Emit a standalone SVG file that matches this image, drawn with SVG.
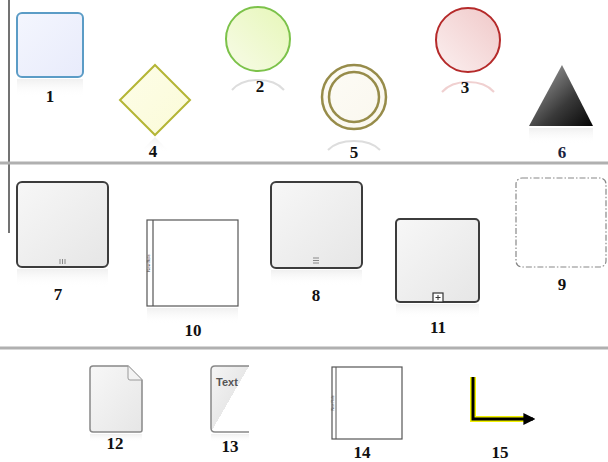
<svg xmlns="http://www.w3.org/2000/svg" width="608" height="462" viewBox="0 0 608 462">
<defs>
<style>
.lbl{font-family:"Liberation Serif","Times New Roman",serif;font-weight:bold;font-size:17px;fill:#111;text-anchor:middle}
.sep{stroke:#b0b0b0;stroke-width:3}
.task{fill:url(#gGray);stroke:#3c3c3c;stroke-width:2}
.refl{opacity:0.35}
</style>
<linearGradient id="gBlue" x1="0" y1="0" x2="1" y2="1"><stop offset="0" stop-color="#f4f6fe"/><stop offset="1" stop-color="#e8ebfb"/></linearGradient>
<linearGradient id="gYellow" x1="0" y1="0" x2="1" y2="1"><stop offset="0" stop-color="#fdfde8"/><stop offset="1" stop-color="#fbfbd8"/></linearGradient>
<linearGradient id="gGreen" x1="0" y1="1" x2="1" y2="0"><stop offset="0" stop-color="#f8fbe8"/><stop offset="1" stop-color="#e6f7b8"/></linearGradient>
<linearGradient id="gRed" x1="0" y1="1" x2="1" y2="0"><stop offset="0" stop-color="#fbf0f0"/><stop offset="1" stop-color="#f0c8c8"/></linearGradient>
<linearGradient id="gCream" x1="0" y1="0" x2="1" y2="1"><stop offset="0" stop-color="#fdfcf6"/><stop offset="1" stop-color="#faf7ee"/></linearGradient>
<linearGradient id="gTri" x1="0" y1="0" x2="1" y2="1"><stop offset="0" stop-color="#b0b0b0"/><stop offset="0.6" stop-color="#3a3a3a"/><stop offset="1" stop-color="#050505"/></linearGradient>
<linearGradient id="gGray" x1="0" y1="0" x2="1" y2="1"><stop offset="0" stop-color="#f7f7f7"/><stop offset="1" stop-color="#e6e6e6"/></linearGradient>
<linearGradient id="gDoc13" x1="0" y1="0" x2="1" y2="1"><stop offset="0" stop-color="#f5f5f5"/><stop offset="0.5" stop-color="#e8e8e8"/><stop offset="0.5" stop-color="#ffffff"/><stop offset="1" stop-color="#ffffff"/></linearGradient>
<linearGradient id="gFade" x1="0" y1="0" x2="0" y2="1"><stop offset="0" stop-color="#c8c8c8" stop-opacity="0.8"/><stop offset="1" stop-color="#ffffff" stop-opacity="0"/></linearGradient>
<marker id="arr" viewBox="0 0 10 10" refX="8" refY="5" markerWidth="4" markerHeight="4" orient="auto"><path d="M0,0 L10,5 L0,10 z" fill="#000"/></marker>
</defs>
<rect width="608" height="462" fill="#fff"/>
<line x1="9" y1="0" x2="9" y2="233" stroke="#444" stroke-width="1.5"/>
<line class="sep" x1="0" y1="163" x2="608" y2="163"/>
<line class="sep" x1="0" y1="348" x2="608" y2="348"/>

<g id="node1">
<rect x="17" y="13" width="66" height="64" rx="5" fill="url(#gBlue)" stroke="#5b9cc6" stroke-width="2"/>
<rect x="17" y="79" width="66" height="18" fill="url(#gFade)" class="refl"/>
<text class="lbl" x="50" y="102">1</text>
</g>
<g id="node4">
<polygon points="155,65 190,100 155,135 120,100" fill="url(#gYellow)" stroke="#b4b535" stroke-width="2"/>
<polygon points="155,137 170,152 140,152" fill="url(#gFade)" class="refl"/>
<text class="lbl" x="153" y="157">4</text>
</g>
<g id="node2">
<circle cx="258" cy="39" r="32" fill="url(#gGreen)" stroke="#7cc24a" stroke-width="2"/>
<path d="M232,90 A30,20 0 0 1 284,90" fill="none" stroke="#ddd" stroke-width="2"/>
<text class="lbl" x="260" y="92">2</text>
</g>
<g id="node5">
<circle cx="354" cy="97" r="32" fill="url(#gCream)" stroke="#978c4a" stroke-width="2.5"/>
<circle cx="354" cy="97" r="25" fill="none" stroke="#978c4a" stroke-width="2.5"/>
<path d="M328,150 A30,18 0 0 1 380,150" fill="none" stroke="#ddd" stroke-width="2"/>
<text class="lbl" x="354" y="158">5</text>
</g>
<g id="node3">
<circle cx="468" cy="40" r="32" fill="url(#gRed)" stroke="#b52a2a" stroke-width="2"/>
<path d="M442,92 A30,20 0 0 1 494,92" fill="none" stroke="#f0d0d0" stroke-width="2"/>
<text class="lbl" x="465" y="93">3</text>
</g>
<g id="node6">
<polygon points="562,65 593,126 529,126" fill="url(#gTri)"/>
<rect x="529" y="128" width="64" height="16" fill="url(#gFade)" class="refl"/>
<text class="lbl" x="562" y="158" style="fill:#1a2340">6</text>
</g>

<g id="node7">
<rect class="task" x="17" y="182" width="91" height="85" rx="5"/>
<g stroke="#888" stroke-width="1"><line x1="60" y1="259" x2="60" y2="264"/><line x1="62.5" y1="259" x2="62.5" y2="264"/><line x1="65" y1="259" x2="65" y2="264"/></g>
<rect x="17" y="269" width="91" height="18" fill="url(#gFade)" class="refl"/>
<text class="lbl" x="58" y="300">7</text>
</g>
<g id="node10">
<rect x="147" y="220" width="91" height="86" fill="#fff" stroke="#555" stroke-width="1.2"/>
<line x1="153" y1="220" x2="153" y2="306" stroke="#555" stroke-width="1.2"/>
<text x="150" y="263" font-family="Liberation Sans, sans-serif" font-size="4" fill="#333" text-anchor="middle" transform="rotate(-90 150 263)">New Role</text>
<rect x="147" y="308" width="91" height="16" fill="url(#gFade)" class="refl"/>
<text class="lbl" x="193" y="336">10</text>
</g>
<g id="node8">
<rect class="task" x="271" y="182" width="91" height="86" rx="5"/>
<g stroke="#888" stroke-width="1"><line x1="313" y1="258" x2="319" y2="258"/><line x1="313" y1="260.5" x2="319" y2="260.5"/><line x1="313" y1="263" x2="319" y2="263"/></g>
<rect x="271" y="270" width="91" height="16" fill="url(#gFade)" class="refl"/>
<text class="lbl" x="316" y="301">8</text>
</g>
<g id="node11">
<rect class="task" x="396" y="219" width="83" height="83" rx="4"/>
<rect x="433" y="293" width="10" height="9" fill="#fff" stroke="#333" stroke-width="1.2"/>
<path d="M438,295 v5 M435.5,297.5 h5" stroke="#333" stroke-width="1"/>
<rect x="396" y="304" width="83" height="14" fill="url(#gFade)" class="refl"/>
<text class="lbl" x="438" y="333">11</text>
</g>
<g id="node9">
<rect x="516" y="178" width="90" height="89" rx="6" fill="none" stroke="#888" stroke-width="1.2" stroke-dasharray="6,2,1.5,2"/>
<text class="lbl" x="562" y="290">9</text>
</g>

<g id="node12">
<path d="M93,366 H128 L142,380 V430 Q142,432 140,432 H93 Q90,432 90,429 V369 Q90,366 93,366 Z" fill="url(#gGray)" stroke="#888" stroke-width="1.5"/>
<path d="M128,366 V378 Q128,380 130,380 H142" fill="#f3f3f3" stroke="#999" stroke-width="1"/>
<rect x="90" y="434" width="52" height="8" fill="url(#gFade)" class="refl"/>
<text class="lbl" x="115" y="449">12</text>
</g>
<g id="node13">
<path d="M249,366 H215 Q211,366 211,370 V428 Q211,432 215,432 H249" fill="url(#gDoc13)" stroke="#888" stroke-width="1.5"/>
<text x="216" y="386" font-family="Liberation Sans, Arial, sans-serif" font-size="11" font-weight="bold" fill="#555">Text</text>
<rect x="211" y="434" width="38" height="8" fill="url(#gFade)" class="refl"/>
<text class="lbl" x="230" y="452">13</text>
</g>
<g id="node14">
<rect x="332" y="367" width="70" height="72" fill="#fff" stroke="#555" stroke-width="1.2"/>
<line x1="336" y1="367" x2="336" y2="439" stroke="#555" stroke-width="1"/>
<text x="334" y="403" font-family="Liberation Sans, sans-serif" font-size="3.5" fill="#444" text-anchor="middle" transform="rotate(-90 334 403)">New Role</text>
<text class="lbl" x="362" y="458">14</text>
</g>

<g id="connectors">
<g id="node15">
<path d="M473,377 V419 H530" fill="none" stroke="#f2f200" stroke-width="6"/>
<path d="M473,377 V419 H533" fill="none" stroke="#000" stroke-width="3" marker-end="url(#arr)"/>
<text class="lbl" x="500" y="458">15</text>
</g>
</g>
</svg>
